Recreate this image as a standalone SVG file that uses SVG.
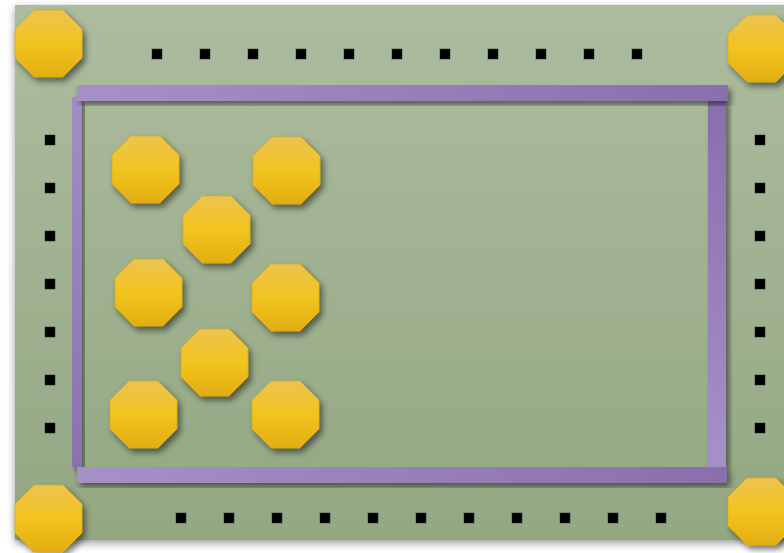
<svg xmlns="http://www.w3.org/2000/svg" xmlns:xlink="http://www.w3.org/1999/xlink" width="784" height="553" viewBox="0 0 784 553">
  <defs>
    <linearGradient id="bg" x1="0" y1="0" x2="0" y2="1">
      <stop offset="0" stop-color="#adbc9f"/>
      <stop offset="1" stop-color="#93a782"/>
    </linearGradient>
    <linearGradient id="gold" x1="0" y1="0" x2="0" y2="1">
      <stop offset="0" stop-color="#ecc350"/>
      <stop offset="0.5" stop-color="#f2c41f"/>
      <stop offset="1" stop-color="#e2ae10"/>
    </linearGradient>
    <linearGradient id="barLR" x1="0" y1="0" x2="1" y2="0">
      <stop offset="0" stop-color="#a591c7"/>
      <stop offset="1" stop-color="#8a6ead"/>
    </linearGradient>
    <linearGradient id="barTB" x1="0" y1="0" x2="0" y2="1">
      <stop offset="0" stop-color="#a28ec5"/>
      <stop offset="1" stop-color="#8c71b0"/>
    </linearGradient>
    <linearGradient id="barBT" x1="0" y1="0" x2="0" y2="1">
      <stop offset="0" stop-color="#8a6ead"/>
      <stop offset="1" stop-color="#a591c7"/>
    </linearGradient>
    <filter id="shadow" x="-20%" y="-20%" width="150%" height="150%">
      <feGaussianBlur in="SourceAlpha" stdDeviation="3"/>
      <feOffset dx="3" dy="4" result="b"/>
      <feComponentTransfer><feFuncA type="linear" slope="0.5"/></feComponentTransfer>
      <feMerge><feMergeNode/><feMergeNode in="SourceGraphic"/></feMerge>
    </filter>
    <filter id="bgshadow" x="-5%" y="-5%" width="110%" height="110%">
      <feGaussianBlur in="SourceAlpha" stdDeviation="4"/>
      <feOffset dx="0" dy="3" result="b"/>
      <feComponentTransfer><feFuncA type="linear" slope="0.4"/></feComponentTransfer>
      <feMerge><feMergeNode/><feMergeNode in="SourceGraphic"/></feMerge>
    </filter>
    <path id="oct" d="M19,0 H48 L67,19 V48 L48,67 H19 L0,48 V19 Z"/>
    <rect id="sq" x="-5" y="-5" width="10" height="10"/>
  </defs>
  <style>
    .oct { fill: url(#gold); stroke: #d9a70f; stroke-width: 0.6; filter: url(#shadow); }
    .sq { fill: #000; stroke: #2a2a2a; stroke-width: 0.5; }
    .bar { filter: url(#shadow); }
  </style>
  <rect x="0" y="0" width="784" height="553" fill="#ffffff"/>
  <rect id="board" x="15" y="5" width="790" height="535" fill="url(#bg)" filter="url(#bgshadow)"/>

  <g id="frame">
    <rect id="bar-left" class="bar" x="72" y="97" width="10" height="370" fill="url(#barTB)"/>
    <rect id="bar-right" class="bar" x="708" y="99" width="18" height="368" fill="url(#barBT)"/>
    <rect id="bar-top" class="bar" x="77" y="85" width="651" height="16" fill="url(#barLR)"/>
    <rect id="bar-bottom" class="bar" x="77" y="467" width="650" height="16" fill="url(#barLR)"/>
  </g>

  <g id="dots">
    <use href="#sq" class="sq" x="157" y="54"/>
    <use href="#sq" class="sq" x="205" y="54"/>
    <use href="#sq" class="sq" x="253" y="54"/>
    <use href="#sq" class="sq" x="301" y="54"/>
    <use href="#sq" class="sq" x="349" y="54"/>
    <use href="#sq" class="sq" x="397" y="54"/>
    <use href="#sq" class="sq" x="445" y="54"/>
    <use href="#sq" class="sq" x="493" y="54"/>
    <use href="#sq" class="sq" x="541" y="54"/>
    <use href="#sq" class="sq" x="589" y="54"/>
    <use href="#sq" class="sq" x="637" y="54"/>

    <use href="#sq" class="sq" x="181" y="518"/>
    <use href="#sq" class="sq" x="229" y="518"/>
    <use href="#sq" class="sq" x="277" y="518"/>
    <use href="#sq" class="sq" x="325" y="518"/>
    <use href="#sq" class="sq" x="373" y="518"/>
    <use href="#sq" class="sq" x="421" y="518"/>
    <use href="#sq" class="sq" x="469" y="518"/>
    <use href="#sq" class="sq" x="517" y="518"/>
    <use href="#sq" class="sq" x="565" y="518"/>
    <use href="#sq" class="sq" x="613" y="518"/>
    <use href="#sq" class="sq" x="661" y="518"/>

    <use href="#sq" class="sq" x="50" y="140"/>
    <use href="#sq" class="sq" x="50" y="188"/>
    <use href="#sq" class="sq" x="50" y="236"/>
    <use href="#sq" class="sq" x="50" y="284"/>
    <use href="#sq" class="sq" x="50" y="332"/>
    <use href="#sq" class="sq" x="50" y="380"/>
    <use href="#sq" class="sq" x="50" y="428"/>

    <use href="#sq" class="sq" x="760" y="140"/>
    <use href="#sq" class="sq" x="760" y="188"/>
    <use href="#sq" class="sq" x="760" y="236"/>
    <use href="#sq" class="sq" x="760" y="284"/>
    <use href="#sq" class="sq" x="760" y="332"/>
    <use href="#sq" class="sq" x="760" y="380"/>
    <use href="#sq" class="sq" x="760" y="428"/>
  </g>

  <g id="oct-tl"><use href="#oct" class="oct" x="15" y="10"/></g>
  <g id="oct-tr"><use href="#oct" class="oct" x="728" y="15"/></g>
  <g id="oct-bl"><use href="#oct" class="oct" x="15" y="485"/></g>
  <g id="oct-br"><use href="#oct" class="oct" x="728" y="478"/></g>

  <g id="oct-1"><use href="#oct" class="oct" x="112" y="136"/></g>
  <g id="oct-2"><use href="#oct" class="oct" x="253" y="137"/></g>
  <g id="oct-3"><use href="#oct" class="oct" x="183" y="196"/></g>
  <g id="oct-4"><use href="#oct" class="oct" x="115" y="259"/></g>
  <g id="oct-5"><use href="#oct" class="oct" x="252" y="264"/></g>
  <g id="oct-6"><use href="#oct" class="oct" x="181" y="329"/></g>
  <g id="oct-7"><use href="#oct" class="oct" x="110" y="381"/></g>
  <g id="oct-8"><use href="#oct" class="oct" x="252" y="381"/></g>
</svg>
